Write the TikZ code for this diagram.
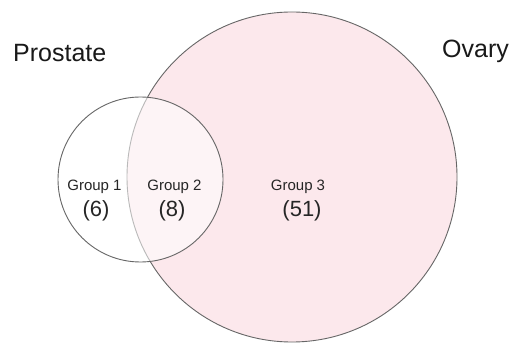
\documentclass[tikz,border=0pt]{standalone}
\usepackage{fontspec}
\setmainfont{Liberation Sans}
\begin{document}
\begin{tikzpicture}[x=1pt,y=-1pt,
  setline/.style={draw=black!60, line width=0.9pt},
  grouplbl/.style={font=\fontsize{15}{17}\selectfont, text=black!85, inner sep=0pt},
  countlbl/.style={font=\fontsize{22}{24}\selectfont, text=black!85, inner sep=0pt},
  setname/.style={font=\fontsize{25}{29}\selectfont, text=black!90, inner sep=0pt, anchor=base west}]
\useasboundingbox[fill=white] (0,0) rectangle (510,344);
\definecolor{ovarypink}{RGB}{252,232,236}
% Ovary circle
\node[circle, setline, fill=ovarypink, minimum size=330pt, inner sep=0pt] (ovary) at (292,177) {};
% Prostate circle
\node[circle, setline, fill=white, fill opacity=0.55, minimum size=165pt, inner sep=0pt] (prostate) at (140.5,179.5) {};
% set names
\node[setname] (pname) at (13,62) {Prostate};
\node[setname] (oname) at (442,58) {Ovary};
% groups
\node[grouplbl] (g1) at (94.5,187) {Group 1};
\node[countlbl] (c1) at (96,211) {(6)};
\node[grouplbl] (g2) at (174.5,187) {Group 2};
\node[countlbl] (c2) at (172,211) {(8)};
\node[grouplbl] (g3) at (298,187) {Group 3};
\node[countlbl] (c3) at (302,211) {(51)};
\end{tikzpicture}
\end{document}
